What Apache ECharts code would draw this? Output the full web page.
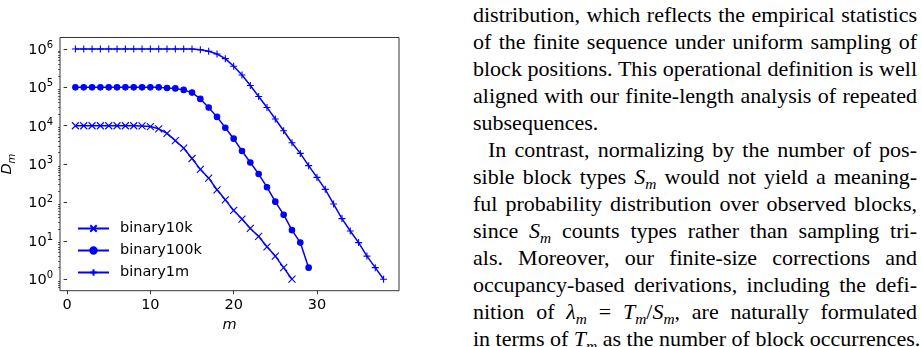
<!DOCTYPE html>
<html>
<head>
<meta charset="utf-8">
<script src="https://cdn.jsdelivr.net/npm/echarts@6/dist/echarts.min.js"></script>
<style>
  html, body { margin: 0; padding: 0; background: #fff; }
  #chart { position: absolute; left: 0; top: 0; width: 440px; height: 347px; }
  #text {
    position: absolute; left: 473px; top: 1px; width: 444px;
    font-family: 'Liberation Serif', 'Times New Roman', serif;
    font-size: 22px; line-height: 27px; color: #000;
  }
  #text div { white-space: nowrap; text-align: justify; text-align-last: justify; }
  #text div.last { text-align-last: left; }
  #text div.indent { text-indent: 15px; }
  #text sub { font-size: 0.7em; vertical-align: -0.3em; line-height: 0; }
</style>
</head>
<body>
<div id="chart"></div>
<div id="text">
  <div>distribution, which reflects the empirical statistics</div>
  <div>of the finite sequence under uniform sampling of</div>
  <div>block positions. This operational definition is well</div>
  <div>aligned with our finite-length analysis of repeated</div>
  <div class="last">subsequences.</div>
  <div class="indent">In contrast, normalizing by the number of pos-</div>
  <div>sible block types <i>S</i><sub><i>m</i></sub> would not yield a meaning-</div>
  <div>ful probability distribution over observed blocks,</div>
  <div>since <i>S</i><sub><i>m</i></sub> counts types rather than sampling tri-</div>
  <div>als. Moreover, our finite-size corrections and</div>
  <div>occupancy-based derivations, including the defi-</div>
  <div>nition of <i>λ</i><sub><i>m</i></sub> = <i>T</i><sub><i>m</i></sub>/<i>S</i><sub><i>m</i></sub>, are naturally formulated</div>
  <div>in terms of <i>T</i><sub><i>m</i></sub> as the number of block occurrences.</div>
</div>
<script>
// D_m vs m, log scale
const mAxis = [1, 2, 3, 4, 5, 6, 7, 8, 9, 10, 11, 12, 13, 14, 15, 16, 17, 18, 19,
  20, 21, 22, 23, 24, 25, 26, 27, 28, 29, 30, 31, 32, 33, 34, 35, 36, 37, 38];

const d10k = [1e4, 1e4, 1e4, 1e4, 1e4, 1e4, 1e4, 1e4, 9.9e3, 9.5e3, 8.3e3, 6.3e3,
  4.1e3, 2.6e3, 1.4e3, 730, 430, 214, 117, 62, 37, 21, 13, 7, 4, 2, 1];

const d100k = [1e5, 1e5, 1e5, 1e5, 1e5, 1e5, 1e5, 1e5, 1e5, 1e5, 1e5, 9.6e4,
  9.4e4, 8.6e4, 7.3e4, 5.0e4, 3.0e4, 1.7e4, 8.9e3, 4.6e3, 2.2e3, 1.1e3, 550,
  250, 105, 48, 19, 9, 2];

const d1m = [1e6, 1e6, 1e6, 1e6, 1e6, 1e6, 1e6, 1e6, 1e6, 1e6, 1e6, 1e6, 1e6,
  1e6, 1e6, 9.6e5, 8.7e5, 7.4e5, 5.6e5, 3.55e5, 2.1e5, 1.12e5, 5.8e4, 3.0e4,
  1.5e4, 7.4e3, 3.6e3, 1.9e3, 910, 450, 220, 91, 38, 18, 9, 4, 2, 1];

const seriesNames = ['binary10k', 'binary100k', 'binary1m'];
const xTicks = [0, 10, 20, 30];
const yTicks = [1, 10, 100, 1e3, 1e4, 1e5, 1e6];
const yMinorTicks = [0.6, 0.7, 0.8, 0.9,
  2, 3, 4, 5, 6, 7, 8, 9,
  20, 30, 40, 50, 60, 70, 80, 90,
  200, 300, 400, 500, 600, 700, 800, 900,
  2e3, 3e3, 4e3, 5e3, 6e3, 7e3, 8e3, 9e3,
  2e4, 3e4, 4e4, 5e4, 6e4, 7e4, 8e4, 9e4,
  2e5, 3e5, 4e5, 5e5, 6e5, 7e5, 8e5, 9e5];

const blue = '#0000ff';
const font = 'DejaVu Sans';
const yMin = Math.pow(10, -0.3);
const yMax = Math.pow(10, 6.3);

const symX = 'path://M0,0L10,10M0,10L10,0';
const symPlus = 'path://M5,0L5,10M0,5L10,5';

function makeSeries(name, vals, symbol, size) {
  return {
    name: name,
    type: 'line',
    data: vals.map((v, i) => [mAxis[i], v]),
    symbol: symbol,
    symbolSize: size,
    showAllSymbol: true,
    lineStyle: { color: blue, width: 1.5 },
    itemStyle: { color: blue, borderColor: blue, borderWidth: 1.1 },
    emphasis: { disabled: true }
  };
}

const chart = echarts.init(document.getElementById('chart'));

const option = {
  animation: false,
  textStyle: { fontFamily: font },
  grid: {
    left: 60, top: 37.5, width: 339, height: 253.2,
    show: true, borderColor: '#000', borderWidth: 0.8,
    outerBoundsMode: 'none'
  },
  legend: {
    data: seriesNames,
    orient: 'vertical',
    left: 72, top: 216,
    itemWidth: 31, itemHeight: 8, itemGap: 7,
    textStyle: { fontFamily: font, fontSize: 14.5, color: '#000', lineHeight: 14, padding: [0, 0, 0, 6] }
  },
  xAxis: {
    type: 'value',
    min: -0.85, max: 39.85,
    splitLine: { show: false },
    axisLine: { show: false },
    axisTick: { length: 3.5, lineStyle: { color: '#000', width: 0.8 }, customValues: xTicks },
    axisLabel: { customValues: xTicks, margin: 7, color: '#000', fontSize: 14.5, fontFamily: font },
    name: 'm',
    nameLocation: 'middle',
    nameGap: 23,
    nameTextStyle: { fontFamily: font, fontSize: 14.5, fontStyle: 'italic', color: '#000' }
  },
  yAxis: [{
    type: 'log', logBase: 10,
    min: yMin, max: yMax,
    splitLine: { show: false },
    axisLine: { show: false },
    axisTick: { length: 3.5, lineStyle: { color: '#000', width: 0.8 }, customValues: yTicks },
    axisLabel: {
      customValues: yTicks,
      margin: 7,
      formatter: v => '{b|10}{s|' + Math.round(Math.log10(v)) + '}',
      rich: {
        b: { fontFamily: font, fontSize: 14.5, color: '#000', verticalAlign: 'bottom' },
        s: { fontFamily: font, fontSize: 10, color: '#000', verticalAlign: 'bottom', padding: [0, 0, 7, 0] }
      }
    },
    name: '{i|D}{s|m}',
    nameLocation: 'middle',
    nameGap: 40,
    nameRotate: 90,
    nameTextStyle: {
      rich: {
        i: { fontFamily: font, fontSize: 14.5, fontStyle: 'italic', color: '#000', verticalAlign: 'bottom', padding: [0, 0, 3, 0] },
        s: { fontFamily: font, fontSize: 10, fontStyle: 'italic', color: '#000', verticalAlign: 'bottom' }
      }
    }
  }, {
    // minor ticks of the log axis
    type: 'log', logBase: 10,
    position: 'left',
    min: yMin, max: yMax,
    splitLine: { show: false },
    axisLine: { show: false },
    axisLabel: { show: false },
    axisTick: { length: 2, lineStyle: { color: '#000', width: 0.6 }, customValues: yMinorTicks }
  }],
  series: [
    makeSeries(seriesNames[0], d10k, symX, 7),
    makeSeries(seriesNames[1], d100k, 'circle', 5.5),
    makeSeries(seriesNames[2], d1m, symPlus, 7)
  ]
};

chart.setOption(option);
</script>
</body>
</html>
